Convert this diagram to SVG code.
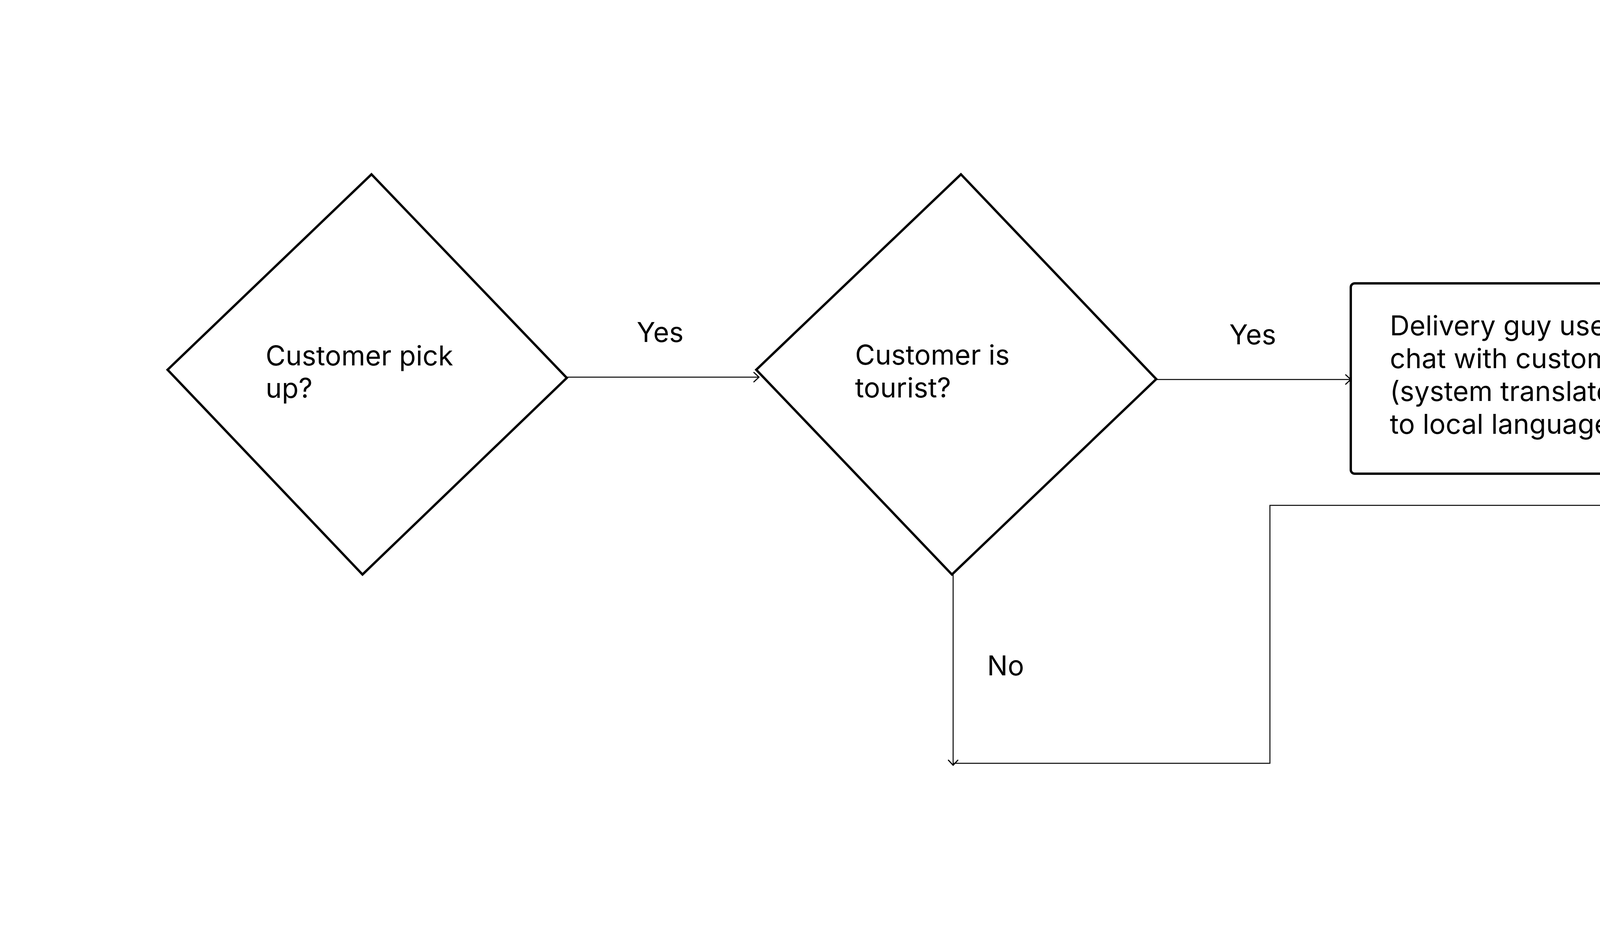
<svg xmlns="http://www.w3.org/2000/svg" width="6400" height="2400" viewBox="0 0 6400 2400">
<style>
.shape{fill:#ffffff;stroke:#000000;stroke-width:6;stroke-linejoin:miter}
.conn{fill:none;stroke:#000000;stroke-width:2.5}
.t{font-family:Inter,"Noto Sans","Liberation Sans",sans-serif;font-size:70px;fill:#000000}
</style>
<defs>
<marker id="arr" viewBox="0 0 20 30" refX="16" refY="15" markerWidth="20" markerHeight="30" markerUnits="userSpaceOnUse" orient="auto">
<path d="M3,3 L16,15 L3,27" fill="none" stroke="#000000" stroke-width="3" stroke-linecap="round" stroke-linejoin="round"/>
</marker>
</defs>
<rect width="6400" height="2400" fill="#ffffff"/>
<g id="connectors">
<path class="conn" d="M1451,965 L1943,965" marker-end="url(#arr)"/>
<path class="conn" d="M2960,971 L3458,971" marker-end="url(#arr)"/>
<path class="conn" d="M4628,971 L5134,971" marker-end="url(#arr)"/>
<path class="conn" d="M2440,1469 L2440,1958" marker-end="url(#arr)"/>
<path class="conn" d="M2440,1953 L3251,1953 L3251,1293 L4937,1293 L4937,974" marker-end="url(#arr)"/>
<text class="t" x="1630" y="875">Yes</text>
<text class="t" x="3147" y="881">Yes</text>
<text class="t" x="2527" y="1728">No</text>
</g>
<g id="node-pickup">
<polygon class="shape" points="951,446 1451,967 928,1470 429,946"/>
<text class="t" x="680" y="935">Customer pick</text>
<text class="t" x="680" y="1018">up?</text>
</g>
<g id="node-tourist">
<polygon class="shape" points="2460,446 2960,970 2437,1470 1936,946"/>
<text class="t" x="2189" y="933">Customer is</text>
<text class="t" x="2189" y="1017">tourist?</text>
</g>
<g id="node-chat">
<rect class="shape" x="3458" y="725" width="1163" height="487" rx="10" ry="10"/>
<text class="t" x="3558" y="858">Delivery guy use app to</text>
<text class="t" x="3558" y="942">chat with customer</text>
<text class="t" x="3558" y="1026">(system translates language</text>
<text class="t" x="3558" y="1110">to local language?)</text>
</g>
<g id="node-clarify">
<polygon class="shape" points="5007,699 5818,699 5625,1195 5242,1195"/>
<text class="t" x="5251" y="818">Customer</text>
<text class="t" x="5251" y="903">clarifies</text>
<text class="t" x="5251" y="987">location</text>
<text class="t" x="5251" y="1071">doubts with</text>
<text class="t" x="5251" y="1155">driver</text>
</g>
</svg>
